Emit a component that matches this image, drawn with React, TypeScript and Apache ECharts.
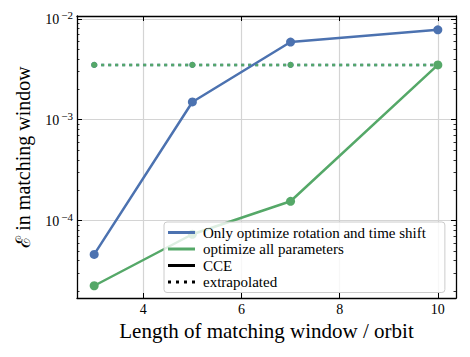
import React, { useEffect, useRef } from "react";
import * as echarts from "echarts";

const windowLengths = [3, 5, 7, 10];
const onlyRotShift = [4.6e-5, 1.5e-3, 5.9e-3, 7.8e-3];
const allParams = [2.25e-5, 7.3e-5, 1.55e-4, 3.5e-3];
const extrapolatedBlue = [3.5e-3, 3.5e-3, 3.5e-3, 3.5e-3];
const extrapolatedGreen = [3.5e-3, 3.5e-3, 3.5e-3, 3.5e-3];
const xTicks = [4, 6, 8, 10];
const yMajorTicks = [1e-4, 1e-3, 1e-2];
const yMinorTicks = [
  2e-5, 3e-5, 4e-5, 5e-5, 6e-5, 7e-5, 8e-5, 9e-5,
  2e-4, 3e-4, 4e-4, 5e-4, 6e-4, 7e-4, 8e-4, 9e-4,
  2e-3, 3e-3, 4e-3, 5e-3, 6e-3, 7e-3, 8e-3, 9e-3,
];
const legendNames = [
  "Only optimize rotation and time shift",
  "optimize all parameters",
  "CCE",
  "extrapolated",
];

const BLUE = "#4C72B0";
const GREEN = "#55A868";
const FONT = "Liberation Serif";

const pairs = (ys: number[]) => windowLengths.map((x, i) => [x, ys[i]]);

export default function App() {
  const ref = useRef<HTMLDivElement>(null);
  useEffect(() => {
    document.body.style.margin = "0";
    const chart = echarts.init(ref.current!, null, { renderer: "svg" });
    const xMin = 2.65;
    const xMax = 10.37;
    const yMin = 1.7e-5;
    const yMax = 1.07e-2;
    const axisLine = { show: true, lineStyle: { color: "#000", width: 1.3 } };
    const baseX = {
      type: "value",
      min: xMin,
      max: xMax,
      splitLine: { show: false },
      axisLabel: { show: false },
      axisLine: { show: false },
    };
    const xAxis = [
      {
        ...baseX,
        position: "bottom",
        axisLine,
        axisTick: { inside: true, length: 5, customValues: xTicks, lineStyle: { color: "#000", width: 1 } },
        axisLabel: {
          show: true,
          customValues: xTicks,
          fontFamily: FONT,
          fontSize: 14,
          color: "#000",
          margin: 4,
        },
        splitLine: { show: true, lineStyle: { color: "#d4d4d4", width: 1.2 } },
        name: "Length of matching window / orbit",
        nameLocation: "middle",
        nameGap: 22,
        nameTextStyle: { fontFamily: FONT, fontSize: 21, color: "#000" },
      },
      {
        ...baseX,
        position: "top",
        axisLine,
        axisTick: { inside: true, length: 5, customValues: xTicks, lineStyle: { color: "#000", width: 1 } },
      },
    ];
    const baseY = {
      type: "log",
      logBase: 10,
      min: yMin,
      max: yMax,
      splitLine: { show: false },
      axisLabel: { show: false },
      axisLine: { show: false },
    };
    const yAxis = [
      {
        ...baseY,
        position: "left",
        axisLine,
        axisTick: { inside: true, length: 5, customValues: yMajorTicks, lineStyle: { color: "#000", width: 1 } },
        axisLabel: {
          show: true,
          customValues: yMajorTicks,
          margin: 4,
          formatter: (v: number) => `{b|10}{s|−${Math.round(-Math.log10(v))}}`,
          rich: {
            b: { fontFamily: FONT, fontSize: 14, color: "#000", verticalAlign: "bottom", lineHeight: 16 },
            s: { fontFamily: FONT, fontSize: 11, color: "#000", verticalAlign: "bottom", lineHeight: 11, padding: [0, 0, 6, 2] },
          },
        },
        splitLine: { show: true, lineStyle: { color: "#d4d4d4", width: 1.2 } },
        name: "ℰ in matching window",
        nameLocation: "middle",
        nameGap: 44,
        nameTextStyle: { fontFamily: FONT, fontSize: 20, color: "#000" },
      },
      {
        ...baseY,
        position: "left",
        axisTick: { inside: true, length: 2.5, customValues: yMinorTicks, lineStyle: { color: "#000", width: 0.8 } },
      },
      {
        ...baseY,
        position: "right",
        axisLine,
        axisTick: { inside: true, length: 5, customValues: yMajorTicks, lineStyle: { color: "#000", width: 1 } },
      },
      {
        ...baseY,
        position: "right",
        axisTick: { inside: true, length: 2.5, customValues: yMinorTicks, lineStyle: { color: "#000", width: 0.8 } },
      },
    ];

    const dotted = [3, 4];
    const solidIcon = "path://M0,0h27v3h-27z";
    const dotIcon = "path://M0,0h3v3h-3zM8,0h3v3h-3zM16,0h3v3h-3zM24,0h3v3h-3z";

    chart.setOption({
      animation: false,
      grid: { left: 77, top: 16, width: 379, height: 282, containLabel: false },
      xAxis,
      yAxis,
      legend: {
        orient: "vertical",
        left: 164,
        top: 222,
        z: 10,
        padding: [3, 19, 3, 4],
        itemWidth: 27,
        itemHeight: 12,
        itemGap: 1.5,
        backgroundColor: "rgba(255,255,255,0.8)",
        borderColor: "#cccccc",
        borderWidth: 1,
        borderRadius: 3,
        textStyle: { fontFamily: FONT, fontSize: 15, color: "#000", padding: [0, 0, 0, 3] },
        data: [
          { name: legendNames[0], icon: solidIcon },
          { name: legendNames[1], icon: solidIcon },
          { name: legendNames[2], icon: solidIcon },
          { name: legendNames[3], icon: dotIcon },
        ],
        selectedMode: false,
      },
      series: [
        {
          name: "blue-extrap",
          type: "line",
          data: pairs(extrapolatedBlue),
          color: BLUE,
          symbol: "circle",
          symbolSize: 6,
          lineStyle: { width: 2.5, type: dotted, color: BLUE },
        },
        {
          name: "green-extrap",
          type: "line",
          data: pairs(extrapolatedGreen),
          color: GREEN,
          symbol: "circle",
          symbolSize: 6,
          lineStyle: { width: 2.5, type: dotted, color: GREEN },
        },
        {
          name: legendNames[0],
          type: "line",
          data: pairs(onlyRotShift),
          color: BLUE,
          symbol: "circle",
          symbolSize: 9,
          lineStyle: { width: 2.5, color: BLUE },
        },
        {
          name: legendNames[1],
          type: "line",
          data: pairs(allParams),
          color: GREEN,
          symbol: "circle",
          symbolSize: 9,
          lineStyle: { width: 2.5, color: GREEN },
        },
        { name: legendNames[2], type: "line", data: [], color: "#000" },
        { name: legendNames[3], type: "line", data: [], color: "#000" },
      ],
    });
    return () => chart.dispose();
  }, []);
  return <div ref={ref} style={{ width: 470, height: 357 }} />;
}
